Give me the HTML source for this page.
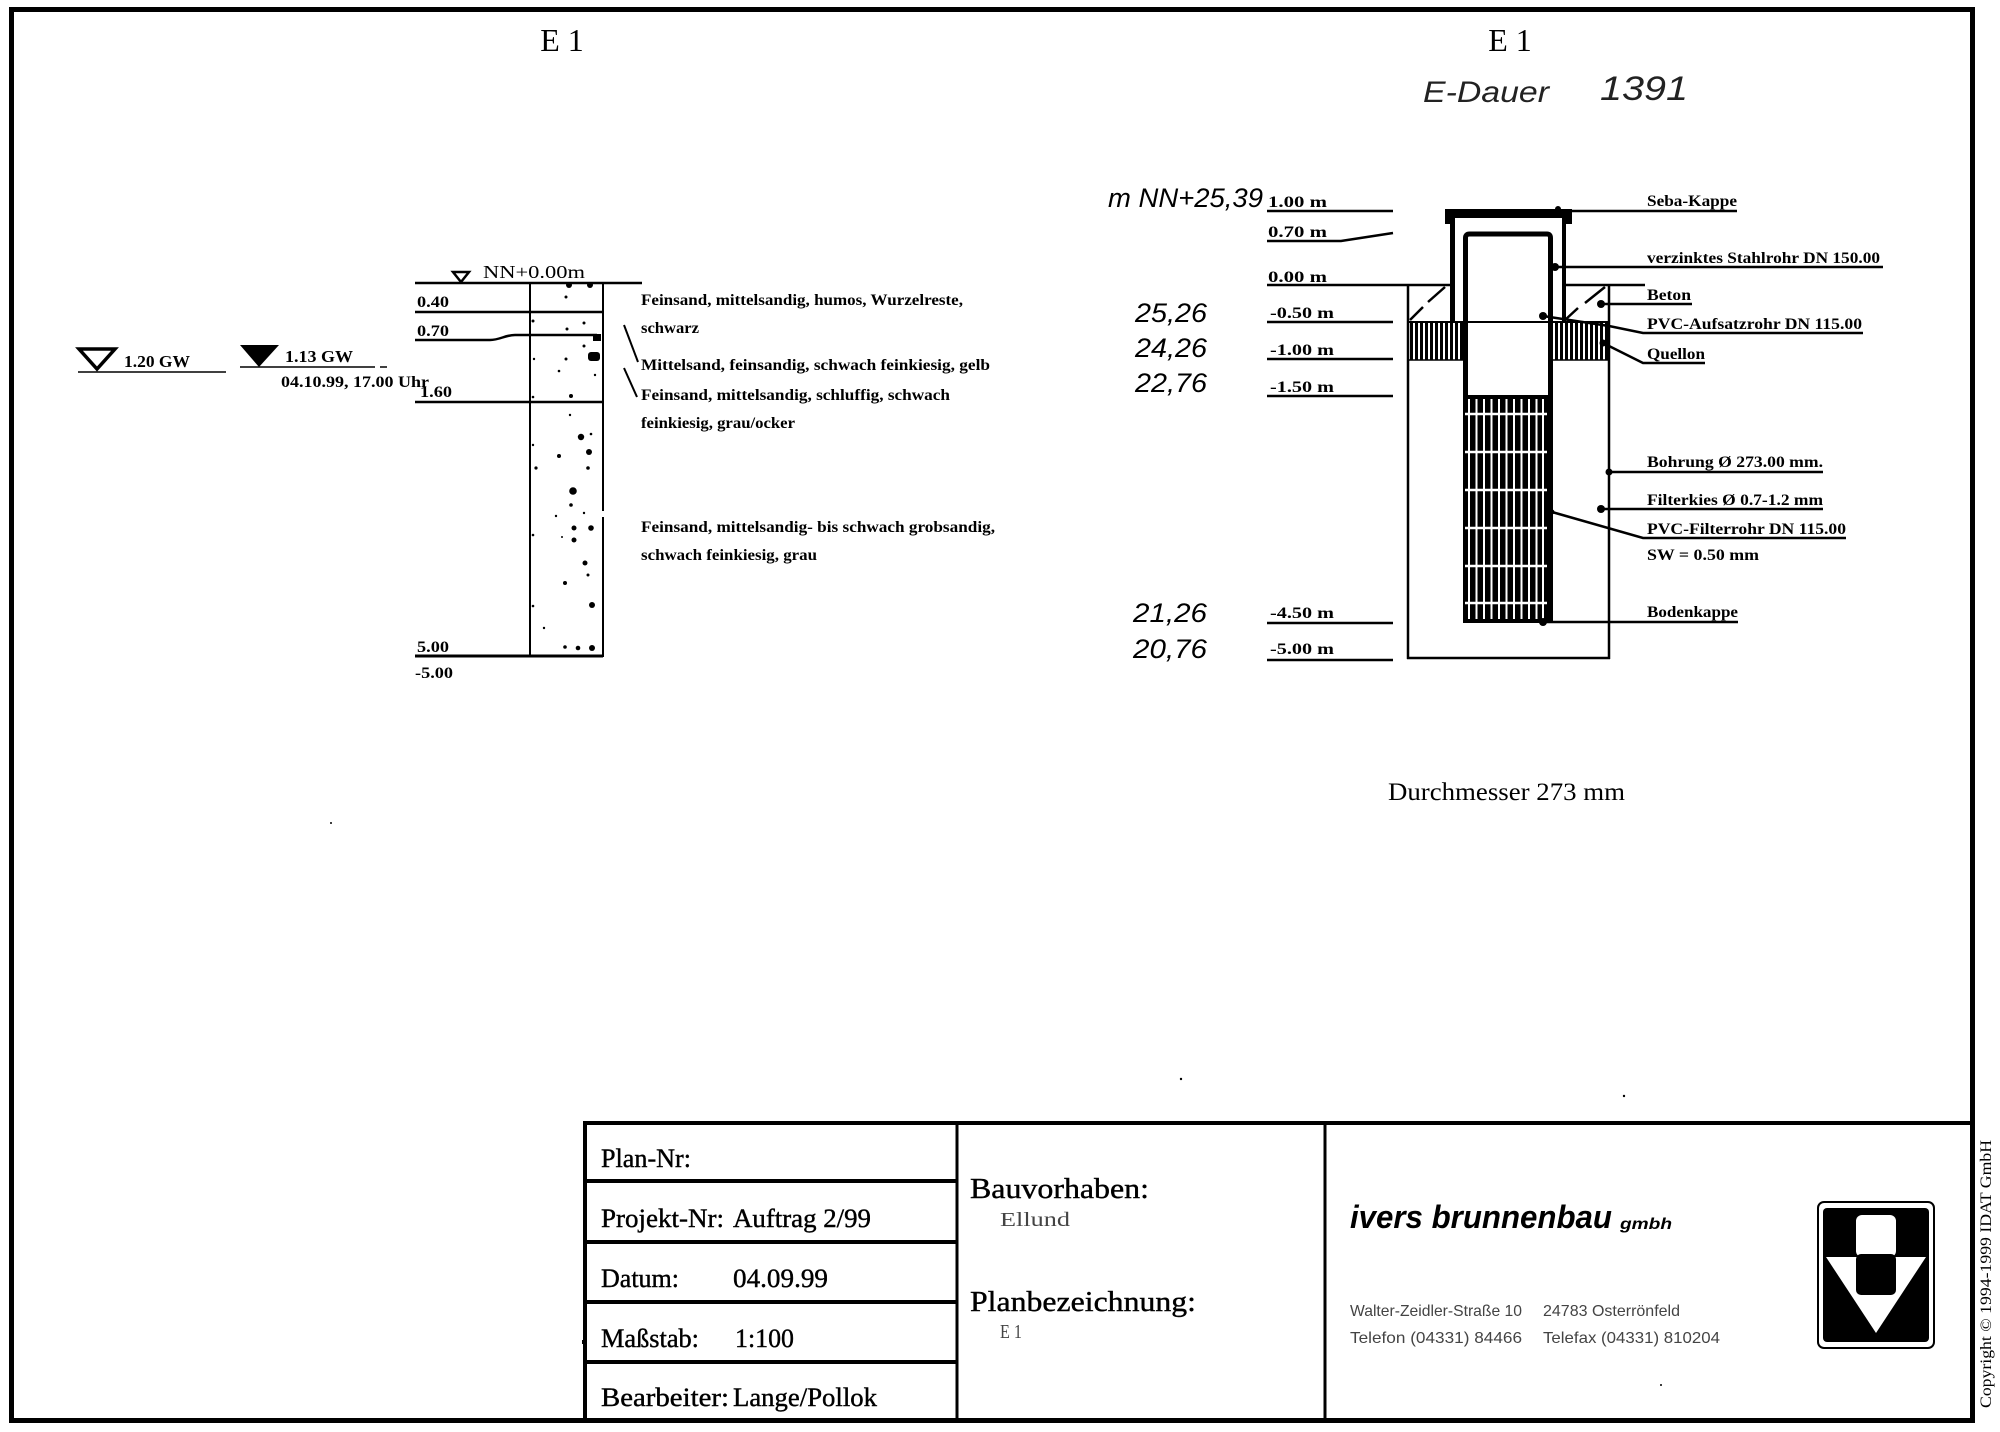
<!DOCTYPE html>
<html>
<head>
<meta charset="utf-8">
<style>
  html, body { margin:0; padding:0; background:#fff; }
  svg { display:block; }
  .s { font-family: "Liberation Serif", "DejaVu Serif", serif; }
  .b { font-weight: bold; }
  .h { font-family: "Liberation Sans", "DejaVu Sans", sans-serif; font-style: italic; }
</style>
</head>
<body>
<svg width="2000" height="1432" viewBox="0 0 2000 1432" xmlns="http://www.w3.org/2000/svg">
  <defs>
    <pattern id="q" width="5" height="10" patternUnits="userSpaceOnUse">
      <rect x="0" y="0" width="3" height="10" fill="#000"/>
    </pattern>
  </defs>
  <rect x="0" y="0" width="2000" height="1432" fill="#fff"/>

  <!-- outer frame -->
  <rect x="11.5" y="9.5" width="1961" height="1411" fill="none" stroke="#000" stroke-width="5"/>

  <!-- ================= LEFT PROFILE ================= -->
  <text class="s" x="562" y="51" font-size="32" text-anchor="middle">E 1</text>

  <!-- NN marker -->
  <polygon points="453,272 469,272 461,282" fill="#fff" stroke="#000" stroke-width="2.5"/>
  <text class="s" x="483" y="278" font-size="18" textLength="102" lengthAdjust="spacingAndGlyphs">NN+0.00m</text>
  <line x1="415" y1="283" x2="642" y2="283" stroke="#000" stroke-width="2.5"/>

  <!-- column -->
  <line x1="530" y1="283" x2="530" y2="657" stroke="#000" stroke-width="2"/>
  <line x1="603" y1="283" x2="603" y2="511" stroke="#000" stroke-width="2"/>
  <line x1="603" y1="517" x2="603" y2="657" stroke="#000" stroke-width="2"/>

  <!-- layer lines -->
  <line x1="415" y1="312" x2="603" y2="312" stroke="#000" stroke-width="2.5"/>
  <path d="M415 340 L490 340 C500 340 505 335 515 335 L597 335" fill="none" stroke="#000" stroke-width="2.5"/>
  <line x1="415" y1="402" x2="603" y2="402" stroke="#000" stroke-width="2.5"/>
  <line x1="415" y1="656" x2="603" y2="656" stroke="#000" stroke-width="3"/>

  <g class="s b" font-size="16">
    <text x="417" y="307" textLength="32" lengthAdjust="spacingAndGlyphs">0.40</text>
    <text x="417" y="336" textLength="32" lengthAdjust="spacingAndGlyphs">0.70</text>
    <text x="420" y="397" textLength="32" lengthAdjust="spacingAndGlyphs">1.60</text>
    <text x="417" y="652" textLength="32" lengthAdjust="spacingAndGlyphs">5.00</text>
    <text x="415" y="678" textLength="38" lengthAdjust="spacingAndGlyphs">-5.00</text>
  </g>

  <!-- dots in column -->
  <g fill="#000">
    <circle cx="569" cy="285" r="3"/><circle cx="590" cy="285" r="3"/><circle cx="566" cy="297" r="1.5"/>
    <circle cx="533" cy="321" r="1.5"/><circle cx="584" cy="323" r="1.5"/><circle cx="567" cy="329" r="1.5"/>
    <rect x="593" y="334" width="8" height="7"/><circle cx="584" cy="346" r="1.5"/>
    <circle cx="534" cy="359" r="1.2"/><circle cx="566" cy="359" r="1.5"/><rect x="588" y="352" width="12" height="9" rx="3"/>
    <circle cx="559" cy="371" r="1.3"/><circle cx="595" cy="375" r="1.2"/>
    <circle cx="533" cy="397" r="1.3"/><circle cx="571" cy="396" r="2"/>
    <circle cx="570" cy="415" r="1.2"/><circle cx="581" cy="437" r="3.2"/><circle cx="591" cy="434" r="1.3"/>
    <circle cx="533" cy="445" r="1.2"/><circle cx="589" cy="452" r="3"/><circle cx="559" cy="456" r="2"/>
    <circle cx="536" cy="468" r="1.6"/><circle cx="588" cy="468" r="1.8"/><circle cx="573" cy="491" r="3.8"/>
    <circle cx="571" cy="505" r="1.8"/><circle cx="556" cy="516" r="1.2"/><circle cx="584" cy="513" r="1.2"/>
    <circle cx="574" cy="528" r="2.5"/><circle cx="591" cy="528" r="2.8"/><circle cx="533" cy="535" r="1.3"/>
    <circle cx="574" cy="540" r="2.5"/><circle cx="562" cy="537" r="1"/><circle cx="585" cy="563" r="2.5"/>
    <circle cx="588" cy="575" r="1.5"/><circle cx="565" cy="583" r="2"/><circle cx="592" cy="605" r="3"/>
    <circle cx="533" cy="606" r="1.3"/><circle cx="544" cy="628" r="1.2"/><circle cx="565" cy="647" r="1.8"/>
    <circle cx="578" cy="648" r="2.3"/><circle cx="592" cy="648" r="3"/>
  </g>

  <!-- GW markers -->
  <polygon points="79,349 115,349 97,369" fill="#fff" stroke="#000" stroke-width="3.5" stroke-linejoin="miter"/>
  <text class="s b" x="124" y="367" font-size="17" textLength="66" lengthAdjust="spacingAndGlyphs">1.20 GW</text>
  <line x1="78" y1="372" x2="226" y2="372" stroke="#000" stroke-width="1.5"/>
  <polygon points="240,345 279,345 259,367" fill="#000"/>
  <text class="s b" x="285" y="362" font-size="17" textLength="68" lengthAdjust="spacingAndGlyphs">1.13 GW</text>
  <line x1="240" y1="367" x2="375" y2="367" stroke="#000" stroke-width="1.5"/>
  <line x1="380" y1="367" x2="387" y2="367" stroke="#000" stroke-width="1.5"/>
  <text class="s b" x="281" y="387" font-size="16" textLength="148" lengthAdjust="spacingAndGlyphs">04.10.99, 17.00 Uhr</text>

  <!-- descriptions -->
  <g class="s b" font-size="15.5">
    <text x="641" y="305" textLength="322" lengthAdjust="spacingAndGlyphs">Feinsand, mittelsandig, humos, Wurzelreste,</text>
    <text x="641" y="333" textLength="58" lengthAdjust="spacingAndGlyphs">schwarz</text>
    <text x="641" y="370" textLength="349" lengthAdjust="spacingAndGlyphs">Mittelsand, feinsandig, schwach feinkiesig, gelb</text>
    <text x="641" y="400" textLength="309" lengthAdjust="spacingAndGlyphs">Feinsand, mittelsandig, schluffig, schwach</text>
    <text x="641" y="428" textLength="154" lengthAdjust="spacingAndGlyphs">feinkiesig, grau/ocker</text>
    <text x="641" y="532" textLength="354" lengthAdjust="spacingAndGlyphs">Feinsand, mittelsandig- bis schwach grobsandig,</text>
    <text x="641" y="560" textLength="176" lengthAdjust="spacingAndGlyphs">schwach feinkiesig, grau</text>
  </g>
  <line x1="624" y1="325" x2="638" y2="362" stroke="#000" stroke-width="2"/>
  <line x1="624" y1="368" x2="637" y2="397" stroke="#000" stroke-width="2"/>

  <!-- ================= RIGHT WELL ================= -->
  <text class="s" x="1510" y="51" font-size="32" text-anchor="middle">E 1</text>
  <text class="h" x="1423" y="102" font-size="30" textLength="126" lengthAdjust="spacingAndGlyphs" fill="#222">E-Dauer</text>
  <text class="h" x="1600" y="100" font-size="34" textLength="88" lengthAdjust="spacingAndGlyphs" fill="#222">1391</text>

  <text class="h" x="1108" y="207" font-size="27" textLength="155" lengthAdjust="spacingAndGlyphs">m NN+25,39</text>
  <g class="h" font-size="27">
    <text x="1135" y="322" textLength="72" lengthAdjust="spacingAndGlyphs">25,26</text>
    <text x="1135" y="357" textLength="72" lengthAdjust="spacingAndGlyphs">24,26</text>
    <text x="1135" y="392" textLength="72" lengthAdjust="spacingAndGlyphs">22,76</text>
    <text x="1133" y="622" textLength="74" lengthAdjust="spacingAndGlyphs">21,26</text>
    <text x="1133" y="658" textLength="74" lengthAdjust="spacingAndGlyphs">20,76</text>
  </g>

  <g class="s b" font-size="16">
    <text x="1268" y="207" textLength="59" lengthAdjust="spacingAndGlyphs">1.00  m</text>
    <text x="1268" y="237" textLength="59" lengthAdjust="spacingAndGlyphs">0.70  m</text>
    <text x="1268" y="282" textLength="59" lengthAdjust="spacingAndGlyphs">0.00  m</text>
    <text x="1270" y="318" textLength="64" lengthAdjust="spacingAndGlyphs">-0.50  m</text>
    <text x="1270" y="355" textLength="64" lengthAdjust="spacingAndGlyphs">-1.00  m</text>
    <text x="1270" y="392" textLength="64" lengthAdjust="spacingAndGlyphs">-1.50  m</text>
    <text x="1270" y="618" textLength="64" lengthAdjust="spacingAndGlyphs">-4.50  m</text>
    <text x="1270" y="654" textLength="64" lengthAdjust="spacingAndGlyphs">-5.00  m</text>
  </g>
  <g stroke="#000" stroke-width="2.5" fill="none">
    <line x1="1267" y1="211" x2="1393" y2="211"/>
    <path d="M1267 241 L1341 241 L1393 233"/>
    <line x1="1267" y1="285" x2="1452" y2="285"/>
    <line x1="1267" y1="322" x2="1393" y2="322"/>
    <line x1="1267" y1="359" x2="1393" y2="359"/>
    <line x1="1267" y1="396" x2="1393" y2="396"/>
    <line x1="1267" y1="623" x2="1393" y2="623"/>
    <line x1="1267" y1="660" x2="1393" y2="660"/>
  </g>

  <!-- borehole -->
  <g stroke="#000" fill="none">
    <line x1="1408" y1="285" x2="1408" y2="659" stroke-width="2.5"/>
    <line x1="1609" y1="285" x2="1609" y2="659" stroke-width="2.5"/>
    <line x1="1407" y1="658" x2="1610" y2="658" stroke-width="2.5"/>
    <line x1="1566" y1="285" x2="1645" y2="285" stroke-width="2.5"/>
    <line x1="1408" y1="322" x2="1609" y2="322" stroke-width="2"/>
  </g>
  <!-- Quellon -->
  <rect x="1409" y="323" width="54" height="37" fill="url(#q)"/>
  <rect x="1553" y="323" width="55" height="37" fill="url(#q)"/>
  <line x1="1408" y1="360" x2="1463" y2="360" stroke="#000" stroke-width="1.5"/>
  <line x1="1553" y1="360" x2="1609" y2="360" stroke="#000" stroke-width="1.5"/>
  <!-- Beton hatch -->
  <g stroke="#000" stroke-width="2.5">
    <line x1="1445" y1="287" x2="1428" y2="302"/>
    <line x1="1423" y1="307" x2="1410" y2="320"/>
    <line x1="1605" y1="287" x2="1585" y2="303"/>
    <line x1="1578" y1="308" x2="1565" y2="320"/>
  </g>
  <!-- cap -->
  <rect x="1445" y="209" width="127" height="9" fill="#000"/>
  <rect x="1445" y="218" width="8" height="6" fill="#000"/>
  <rect x="1564" y="218" width="8" height="6" fill="#000"/>
  <circle cx="1558" cy="209" r="3" fill="#000"/>
  <!-- steel pipe -->
  <line x1="1452.5" y1="218" x2="1452.5" y2="323" stroke="#000" stroke-width="5"/>
  <line x1="1564" y1="218" x2="1564" y2="323" stroke="#000" stroke-width="4"/>
  <!-- PVC pipe -->
  <path d="M1465.5 623 L1465.5 238 Q1465.5 234 1469.5 234 L1547 234 Q1550.5 234 1550.5 238 L1550.5 623" fill="none" stroke="#000" stroke-width="5"/>
  <!-- filter -->
  <rect x="1463" y="395" width="90" height="228" fill="#000"/>
  <g stroke="#fff" stroke-width="2">
    <line x1="1469" y1="399" x2="1469" y2="619"/>
    <line x1="1476.5" y1="399" x2="1476.5" y2="619"/>
    <line x1="1484" y1="399" x2="1484" y2="619"/>
    <line x1="1491.5" y1="399" x2="1491.5" y2="619"/>
    <line x1="1499" y1="399" x2="1499" y2="619"/>
    <line x1="1506.5" y1="399" x2="1506.5" y2="619"/>
    <line x1="1514" y1="399" x2="1514" y2="619"/>
    <line x1="1521.5" y1="399" x2="1521.5" y2="619"/>
    <line x1="1529" y1="399" x2="1529" y2="619"/>
    <line x1="1536.5" y1="399" x2="1536.5" y2="619"/>
    <line x1="1543" y1="399" x2="1543" y2="619"/>
  </g>
  <g stroke="#fff" stroke-width="2.5">
    <line x1="1465" y1="414" x2="1547" y2="414"/>
    <line x1="1465" y1="452" x2="1547" y2="452"/>
    <line x1="1465" y1="490" x2="1547" y2="490"/>
    <line x1="1465" y1="528" x2="1547" y2="528"/>
    <line x1="1465" y1="566" x2="1547" y2="566"/>
    <line x1="1465" y1="603" x2="1547" y2="603"/>
  </g>

  <!-- leader dots & lines -->
  <g fill="#000">
    <circle cx="1555" cy="267" r="4"/>
    <circle cx="1601" cy="304" r="4"/>
    <circle cx="1543" cy="316" r="4"/>
    <circle cx="1603" cy="343" r="3.5"/>
    <circle cx="1609" cy="472" r="3.5"/>
    <circle cx="1601" cy="509" r="4"/>
    <circle cx="1543" cy="622" r="4"/>
    <circle cx="1552" cy="512" r="2.5"/>
  </g>
  <g stroke="#000" stroke-width="2.5" fill="none">
    <line x1="1561" y1="211" x2="1737" y2="211"/>
    <line x1="1555" y1="267" x2="1883" y2="267"/>
    <line x1="1601" y1="304" x2="1692" y2="304"/>
    <path d="M1543 316 L1609 326 L1643 333 L1863 333"/>
    <path d="M1603 343 L1643 363 L1705 363"/>
    <line x1="1609" y1="472" x2="1823" y2="472"/>
    <line x1="1601" y1="509" x2="1823" y2="509"/>
    <path d="M1552 512 L1643 538 L1846 538"/>
    <line x1="1543" y1="622" x2="1738" y2="622"/>
  </g>
  <g class="s b" font-size="16">
    <text x="1647" y="206" textLength="90" lengthAdjust="spacingAndGlyphs">Seba-Kappe</text>
    <text x="1647" y="263" textLength="233" lengthAdjust="spacingAndGlyphs">verzinktes Stahlrohr DN 150.00</text>
    <text x="1647" y="300" textLength="44" lengthAdjust="spacingAndGlyphs">Beton</text>
    <text x="1647" y="329" textLength="215" lengthAdjust="spacingAndGlyphs">PVC-Aufsatzrohr DN 115.00</text>
    <text x="1647" y="359" textLength="58" lengthAdjust="spacingAndGlyphs">Quellon</text>
    <text x="1647" y="467" textLength="176" lengthAdjust="spacingAndGlyphs">Bohrung Ø 273.00 mm.</text>
    <text x="1647" y="505" textLength="176" lengthAdjust="spacingAndGlyphs">Filterkies Ø 0.7-1.2 mm</text>
    <text x="1647" y="534" textLength="199" lengthAdjust="spacingAndGlyphs">PVC-Filterrohr DN 115.00</text>
    <text x="1647" y="560" textLength="112" lengthAdjust="spacingAndGlyphs">SW = 0.50 mm</text>
    <text x="1647" y="617" textLength="91" lengthAdjust="spacingAndGlyphs">Bodenkappe</text>
  </g>

  <text class="s" x="1388" y="800" font-size="25" textLength="237" lengthAdjust="spacingAndGlyphs">Durchmesser 273 mm</text>

  <!-- specks -->
  <g fill="#000">
    <circle cx="1181" cy="1079" r="1.2"/>
    <circle cx="1624" cy="1096" r="1.2"/>
    <circle cx="331" cy="823" r="1"/>
    <rect x="582" y="1340" width="2" height="4"/>
    <circle cx="1661" cy="1385" r="1"/>
  </g>

  <!-- ================= TITLE BLOCK ================= -->
  <g stroke="#000" fill="none">
    <line x1="585" y1="1123" x2="1973" y2="1123" stroke-width="4"/>
    <line x1="585" y1="1121" x2="585" y2="1421" stroke-width="4"/>
    <line x1="585" y1="1181" x2="957" y2="1181" stroke-width="4"/>
    <line x1="585" y1="1242" x2="957" y2="1242" stroke-width="4"/>
    <line x1="585" y1="1302" x2="957" y2="1302" stroke-width="4"/>
    <line x1="585" y1="1362" x2="957" y2="1362" stroke-width="4"/>
    <line x1="957" y1="1123" x2="957" y2="1421" stroke-width="3"/>
    <line x1="1325" y1="1123" x2="1325" y2="1421" stroke-width="3"/>
  </g>
  <g class="s" font-size="26" stroke="#000" stroke-width="0.4">
    <text x="601" y="1167" textLength="90" lengthAdjust="spacingAndGlyphs">Plan-Nr:</text>
    <text x="601" y="1227" textLength="123" lengthAdjust="spacingAndGlyphs">Projekt-Nr:</text>
    <text x="733" y="1227" textLength="138" lengthAdjust="spacingAndGlyphs">Auftrag 2/99</text>
    <text x="601" y="1287" textLength="78" lengthAdjust="spacingAndGlyphs">Datum:</text>
    <text x="733" y="1287" textLength="95" lengthAdjust="spacingAndGlyphs">04.09.99</text>
    <text x="601" y="1347" textLength="98" lengthAdjust="spacingAndGlyphs">Maßstab:</text>
    <text x="735" y="1347" textLength="59" lengthAdjust="spacingAndGlyphs">1:100</text>
    <text x="601" y="1406" textLength="128" lengthAdjust="spacingAndGlyphs">Bearbeiter:</text>
    <text x="733" y="1406" textLength="144" lengthAdjust="spacingAndGlyphs">Lange/Pollok</text>
  </g>
  <g class="s">
    <text x="970" y="1198" font-size="29" stroke="#000" stroke-width="0.4" textLength="179" lengthAdjust="spacingAndGlyphs">Bauvorhaben:</text>
    <text x="1000" y="1226" font-size="20" fill="#444" textLength="70" lengthAdjust="spacingAndGlyphs">Ellund</text>
    <text x="970" y="1311" font-size="29" stroke="#000" stroke-width="0.4" textLength="226" lengthAdjust="spacingAndGlyphs">Planbezeichnung:</text>
    <text x="1000" y="1338" font-size="20" fill="#444" textLength="22" lengthAdjust="spacingAndGlyphs">E 1</text>
  </g>

  <!-- company -->
  <text x="1350" y="1228" font-family="'Liberation Sans', 'DejaVu Sans', sans-serif" font-weight="bold" font-style="italic" font-size="32" textLength="262" lengthAdjust="spacingAndGlyphs">ivers brunnenbau</text>
  <text x="1620" y="1229" font-family="'Liberation Sans', 'DejaVu Sans', sans-serif" font-weight="bold" font-style="italic" font-size="16" textLength="52" lengthAdjust="spacingAndGlyphs">gmbh</text>
  <g font-family="'Liberation Sans', 'DejaVu Sans', sans-serif" font-size="16" fill="#444">
    <text x="1350" y="1316" textLength="172" lengthAdjust="spacingAndGlyphs">Walter-Zeidler-Straße 10</text>
    <text x="1543" y="1316" textLength="137" lengthAdjust="spacingAndGlyphs">24783 Osterrönfeld</text>
    <text x="1350" y="1343" textLength="172" lengthAdjust="spacingAndGlyphs">Telefon (04331) 84466</text>
    <text x="1543" y="1343" textLength="177" lengthAdjust="spacingAndGlyphs">Telefax (04331) 810204</text>
  </g>

  <!-- logo -->
  <rect x="1818" y="1202" width="116" height="146" rx="6" fill="#fff" stroke="#000" stroke-width="2"/>
  <rect x="1823" y="1208" width="106" height="134" rx="4" fill="#000"/>
  <rect x="1856" y="1215" width="40" height="42" rx="6" fill="#fff"/>
  <polygon points="1826,1257 1926,1257 1876,1333" fill="#fff"/>
  <rect x="1856" y="1254" width="40" height="41" rx="5" fill="#000"/>

  <!-- copyright -->
  <text class="s" transform="translate(1991,1408) rotate(-90)" font-size="16" textLength="268" lengthAdjust="spacingAndGlyphs">Copyright © 1994-1999 IDAT GmbH</text>
</svg>
</body>
</html>
